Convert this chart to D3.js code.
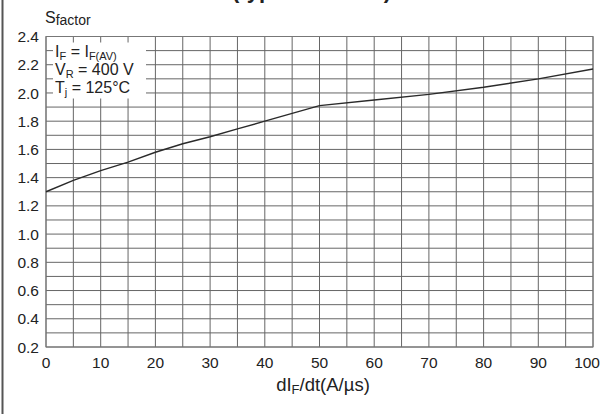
<!DOCTYPE html>
<html><head><meta charset="utf-8">
<script src="https://cdn.jsdelivr.net/npm/d3@7/dist/d3.min.js"></script>
<style>body{margin:0;background:#fff}svg{display:block}text{font-family:"Liberation Sans",Arial,sans-serif;fill:#222}</style>
</head><body><svg id="c" width="601" height="414"></svg>
<script>
const xValues = [0,5,10,15,20,25,30,35,40,45,50,60,70,80,90,100];
const sFactor = [1.30,1.38,1.45,1.51,1.58,1.64,1.69,1.745,1.80,1.855,1.91,1.95,1.99,2.04,2.10,2.17];
const xTicks = [0,10,20,30,40,50,60,70,80,90,100];
const yTicks = [0.2,0.4,0.6,0.8,1.0,1.2,1.4,1.6,1.8,2.0,2.2,2.4];
const xGrid = d3.range(0,101,5);
const yGrid = d3.range(2,25,1).map(d=>d/10);

const svg = d3.select("#c");
const x = d3.scaleLinear().domain([0,100]).range([46,593]);
const y = d3.scaleLinear().domain([0.2,2.4]).range([347,36.5]);

// figure frame (left edge)
svg.append("line").attr("x1",2.5).attr("x2",2.5).attr("y1",0).attr("y2",414)
  .attr("stroke","#555").attr("stroke-width",2);

// title fragment (cut off at the top, as in the reference)
svg.append("text").attr("x",232).attr("y",-2.5).attr("font-size",22).attr("font-weight","bold")
  .text("(typical values)");

const g = svg.append("g");
g.selectAll(".vg").data(xGrid).join("line")
  .attr("x1",d=>x(d)).attr("x2",d=>x(d)).attr("y1",y(2.4)).attr("y2",y(0.2))
  .attr("stroke","#666").attr("stroke-width",1);
g.selectAll(".hg").data(yGrid).join("line")
  .attr("x1",x(0)).attr("x2",x(100)).attr("y1",d=>y(d)).attr("y2",d=>y(d))
  .attr("stroke","#666").attr("stroke-width",1);
g.append("rect").attr("x",x(0)).attr("y",y(2.4)).attr("width",x(100)-x(0)).attr("height",y(0.2)-y(2.4))
  .attr("fill","none").attr("stroke","#777").attr("stroke-width",1);

// legend box
svg.append("rect").attr("x",53).attr("y",42.5).attr("width",93).attr("height",56).attr("fill","#fff");
const leg = [
  {m:"I", s:"F", r:" = I", s2:"F(AV)", y:57},
  {m:"V", s:"R", r:" = 400 V", s2:"", y:75},
  {m:"T", s:"j", r:" = 125°C", s2:"", y:92.5}
];
leg.forEach(L=>{
  const t = svg.append("text").attr("x",55).attr("y",L.y).attr("font-size",16);
  t.append("tspan").text(L.m);
  t.append("tspan").attr("font-size",11).attr("dy",3).text(L.s);
  t.append("tspan").attr("dy",-3).text(L.r);
  if(L.s2){ t.append("tspan").attr("font-size",11).attr("dy",3).text(L.s2); }
});

// curve
svg.append("path").datum(xValues.map((v,i)=>[v,sFactor[i]]))
  .attr("fill","none").attr("stroke","#2a2a2a").attr("stroke-width",1.4)
  .attr("d", d3.line().x(d=>x(d[0])).y(d=>y(d[1])));

// y tick labels
svg.selectAll(".yl").data(yTicks).join("text")
  .attr("x",39).attr("y",d=>y(d)).attr("dy","0.36em").attr("text-anchor","end")
  .attr("font-size",15.5).text(d=>d.toFixed(1));
// x tick labels (last one kept inside the page edge)
svg.selectAll(".xl").data(xTicks).join("text")
  .attr("x",d=>d===100 ? 600 : x(d)).attr("y",368)
  .attr("text-anchor",d=>d===100 ? "end" : "middle")
  .attr("font-size",15.5).text(d=>d);

// y axis title
const yt = svg.append("text").attr("x",45).attr("y",23).attr("font-size",16);
yt.append("tspan").text("S");
yt.append("tspan").attr("font-size",14).attr("dy",2).text("factor");

// x axis title
const xt = svg.append("text").attr("x",323).attr("y",391).attr("text-anchor","middle").attr("font-size",18.5);
xt.append("tspan").text("dI");
xt.append("tspan").attr("font-size",13).attr("dy",3).text("F");
xt.append("tspan").attr("dy",-3).text("/dt(A/µs)");
</script></body></html>
